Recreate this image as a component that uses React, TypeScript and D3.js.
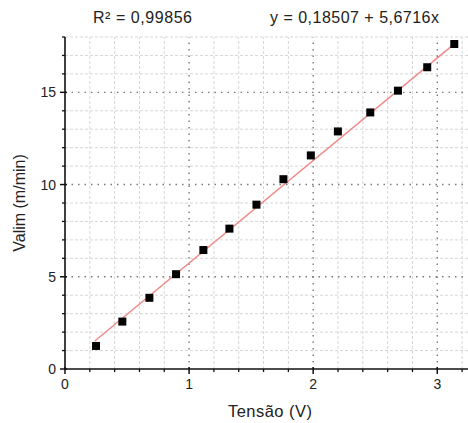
import React from "react";
import * as d3 from "d3";

const tensao = [0.25, 0.462, 0.68, 0.895, 1.115, 1.325, 1.543, 1.76, 1.981, 2.199, 2.46, 2.683, 2.919, 3.137];
const valim = [1.25, 2.57, 3.86, 5.14, 6.45, 7.61, 8.91, 10.29, 11.58, 12.88, 13.91, 15.09, 16.36, 17.62];
const fitX = [0.24, 3.14];
const fitY = [1.52, 17.64];
const xMajor = [0, 1, 2, 3];
const yMajor = [0, 5, 10, 15];
const r2Text = "R² = 0,99856";
const eqText = "y = 0,18507 + 5,6716x";
const xTitle = "Tensão (V)";
const yTitle = "Valim (m/min)";

const W = 468;
const H = 423;
const FONT = "'Liberation Sans', Arial, sans-serif";

export default function App() {
  const x = d3.scaleLinear().domain([0, 3.25]).range([65, 468.3]);
  const y = d3.scaleLinear().domain([0, 18]).range([369, 37]);
  const xMinor = d3.range(0, 3.25, 0.2).map((v) => +v.toFixed(2)).filter((v) => !xMajor.some((m) => Math.abs(m - v) < 1e-6));
  const yMinor = d3.range(0, 18.01, 1).filter((v) => !yMajor.includes(v));
  const line = d3.line<number>().x((d, i) => x(fitX[i])).y((d, i) => y(fitY[i]));
  const [x0, x1] = x.range();
  const [y0, y1] = y.range();
  const fmt = (v: number) => String(v).replace(".", ",");

  return (
    <svg width={W} height={H} style={{ position: "absolute", left: 0, top: 0, background: "#fff" }}>
      <rect width={W} height={H} fill="#fff" />
      {/* minor grid */}
      {xMinor.map((v) => (
        <line key={"gxm" + v} x1={x(v)} x2={x(v)} y1={y0} y2={y1} stroke="#d6d6d6" strokeWidth={1} strokeDasharray="3,2" />
      ))}
      {yMinor.map((v) => (
        <line key={"gym" + v} x1={x0} x2={x1} y1={y(v)} y2={y(v)} stroke="#d6d6d6" strokeWidth={1} strokeDasharray="3,2" />
      ))}
      {/* major grid */}
      {xMajor.filter((v) => v > 0).map((v) => (
        <line key={"gx" + v} x1={x(v)} x2={x(v)} y1={y0} y2={y1} stroke="#7a7a7a" strokeWidth={1.4} strokeDasharray="1.5,5" />
      ))}
      {yMajor.filter((v) => v > 0).map((v) => (
        <line key={"gy" + v} x1={x0} x2={x1} y1={y(v)} y2={y(v)} stroke="#7a7a7a" strokeWidth={1.4} strokeDasharray="1.5,5" />
      ))}
      {/* fit line */}
      <path d={line(fitX) || ""} fill="none" stroke="#f08a8a" strokeWidth={1.5} />
      {/* points */}
      {tensao.map((v, i) => (
        <rect key={"p" + i} x={x(v) - 4} y={y(valim[i]) - 4} width={8} height={8} fill="#000" />
      ))}
      {/* axes */}
      <line x1={x0} x2={x1} y1={y0} y2={y0} stroke="#111" strokeWidth={1.6} />
      <line x1={x0} x2={x0} y1={y0 + 1} y2={y1} stroke="#111" strokeWidth={1.6} />
      {xMajor.map((v) => (
        <line key={"tx" + v} x1={x(v)} x2={x(v)} y1={y0 - 2} y2={y0 + 5} stroke="#111" strokeWidth={1.5} />
      ))}
      {xMinor.map((v) => (
        <line key={"txm" + v} x1={x(v)} x2={x(v)} y1={y0} y2={y0 + 3} stroke="#111" strokeWidth={1.3} />
      ))}
      {yMajor.map((v) => (
        <line key={"ty" + v} x1={x0 - 5} x2={x0 + 2} y1={y(v)} y2={y(v)} stroke="#111" strokeWidth={1.5} />
      ))}
      {yMinor.map((v) => (
        <line key={"tym" + v} x1={x0 - 3} x2={x0} y1={y(v)} y2={y(v)} stroke="#111" strokeWidth={1.3} />
      ))}
      {/* tick labels */}
      {xMajor.map((v) => (
        <text key={"lx" + v} x={x(v)} y={y0 + 20} textAnchor="middle" fontFamily={FONT} fontSize={14} fill="#222">
          {fmt(v)}
        </text>
      ))}
      {yMajor.map((v) => (
        <text key={"ly" + v} x={x0 - 9} y={y(v) + 5} textAnchor="end" fontFamily={FONT} fontSize={14} fill="#222">
          {fmt(v)}
        </text>
      ))}
      {/* titles */}
      <text x={270} y={417} textAnchor="middle" fontFamily={FONT} fontSize={16.5} fill="#222" textLength={84} lengthAdjust="spacing">
        {xTitle}
      </text>
      <text transform={`translate(25,${(y0 + y1) / 2}) rotate(-90)`} textAnchor="middle" fontFamily={FONT} fontSize={16} fill="#222">
        {yTitle}
      </text>
      <text x={142.5} y={23} textAnchor="middle" fontFamily={FONT} fontSize={16} fill="#222" textLength={99} lengthAdjust="spacing">
        {r2Text}
      </text>
      <text x={354.5} y={23} textAnchor="middle" fontFamily={FONT} fontSize={16} fill="#222" textLength={169} lengthAdjust="spacing">
        {eqText}
      </text>
    </svg>
  );
}
